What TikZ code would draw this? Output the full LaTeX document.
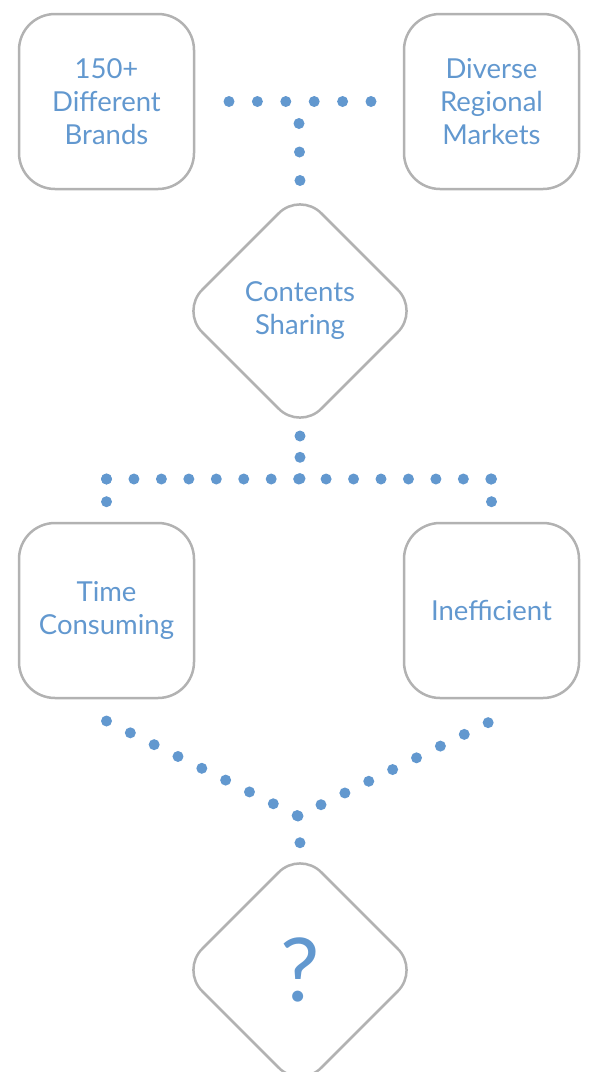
\documentclass[tikz,border=0pt]{standalone}
\usepackage{fontspec}
\setmainfont{Lato}
\usetikzlibrary{shapes.geometric, calc}
\definecolor{xanhnhat}{RGB}{98,152,207}
\definecolor{xamvien}{RGB}{178,178,178}

\begin{document}
\begin{tikzpicture}[x=1pt, y=-1pt,
    hop/.style={draw=xamvien, line width=2.5pt, rounded corners=36pt, minimum size=175pt, inner sep=0pt, outer sep=0pt, align=center, text=xanhnhat, font=\fontsize{27.5}{33}\selectfont},
    thoi/.style={draw=xamvien, line width=2.5pt, diamond, rounded corners=30pt, minimum size=238pt, inner sep=0pt, outer sep=0pt, align=center, text=xanhnhat, font=\fontsize{27.5}{33}\selectfont},
    cham/.style={xanhnhat, line width=11pt, line cap=round, dash pattern=on 0pt off #1}]

            \useasboundingbox (0,0) rectangle (591,1072);

            % Vẽ hai hộp phía trên
            \node[hop] (brands) at (106.5,101.5) {150+\\Different\\Brands};
            \node[hop] (markets) at (491.5,101.5) {Diverse\\Regional\\Markets};

            % Vẽ hình thoi ở giữa
            \node[thoi] (sharing) at (300,311) {Contents\\Sharing};

            % Vẽ hai hộp phía dưới
            \node[hop] (consuming) at (106.5,610.5) {Time\\Consuming};
            \node[hop] (inefficient) at (491.5,610.5) {Inefficient};

            % Vẽ hình thoi cuối
            \node[thoi, font=\fontsize{88}{90}\selectfont] (unknown) at (300,970) {?};

            % Các điểm nối
            \coordinate (split) at (300,479);
            \coordinate (merge) at (298,816);

            % Nối hai hộp trên với hình thoi
            \draw[cham=28.4pt] ([xshift=35pt]brands.east) -- ([xshift=-32pt]markets.west);
            \draw[cham=28.5pt] ($(brands.east)!.5!(markets.west)+(0,22)$) -- ([yshift=11pt]sharing.north);

            % Nối hình thoi với hai hộp dưới
            \draw[cham=21.3pt] ([yshift=-6pt]sharing.south) -- (split);
            \draw[cham=27.45pt] (consuming.north |- split) -- (inefficient.north |- split);
            \draw[cham=22.7pt] (consuming.north |- split) -- ([yshift=21pt]consuming.north);
            \draw[cham=22.7pt] (inefficient.north |- split) -- ([yshift=21pt]inefficient.north);

            % Nối hai hộp dưới với dấu hỏi
            \draw[cham=26.6pt] ([yshift=-23pt]consuming.south) -- (merge) -- ([yshift=-23pt]inefficient.south);
            \draw[cham=26.8pt] (merge) -- ([yshift=8pt]unknown.north);

            \end{tikzpicture}
\end{document}
